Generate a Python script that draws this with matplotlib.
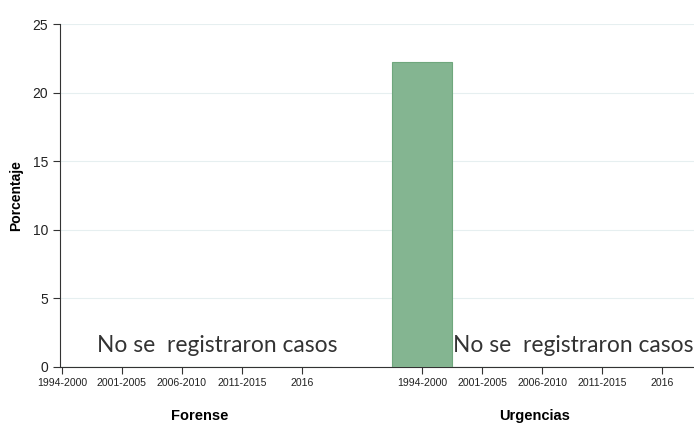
import matplotlib
matplotlib.use("Agg")
import matplotlib.pyplot as plt
import numpy as np

periods = ["1994-2000", "2001-2005", "2006-2010", "2011-2015", "2016"]
groups = ["Forense", "Urgencias"]
forense_vals = [np.nan, np.nan, np.nan, np.nan, np.nan]
urgencias_vals = [22.2, np.nan, np.nan, np.nan, np.nan]
yticks = [0, 5, 10, 15, 20, 25]
note = "No se  registraron casos"

fig = plt.figure(figsize=(6.94, 4.23), dpi=100)
ax = fig.add_axes([60/694, (423-366.7)/423, 1-60/694, (366.7-24)/423])

pos_f = np.arange(5)
pos_u = np.arange(5) + 6
ax.bar(pos_f, np.nan_to_num(forense_vals), width=1.0, color="#84b591", edgecolor="#6fa77d", linewidth=0.8)
ax.bar(pos_u, np.nan_to_num(urgencias_vals), width=1.0, color="#84b591", edgecolor="#6fa77d", linewidth=0.8, zorder=3)

ax.set_xlim(-0.03, 10.53)
ax.set_ylim(0, 25)
ax.set_yticks(yticks)
ax.set_yticklabels([str(t) for t in yticks], fontsize=10, family="Liberation Sans", color="#222222")
ax.yaxis.grid(True, color="#e6eff0", linewidth=0.8)
ax.set_axisbelow(True)

ax.set_xticks(list(pos_f) + list(pos_u))
ax.set_xticklabels(periods + periods, fontsize=7.6, family="Liberation Sans", color="#222222")
ax.tick_params(axis="both", direction="out", length=5, width=0.8, color="#333333")
ax.tick_params(axis="x", pad=3)

for s in ["top", "right"]:
    ax.spines[s].set_visible(False)
for s in ["left", "bottom"]:
    ax.spines[s].set_color("#333333")
    ax.spines[s].set_linewidth(0.8)

ax.set_ylabel("Porcentaje", fontsize=10, fontweight="bold",
              family="Liberation Sans", labelpad=7)

ax.text(0.59, 1.07, note, fontsize=16.4, family="Lato", color="#333333", ha="left", va="baseline")
ax.text(6.52, 1.07, note, fontsize=16.4, family="Lato", color="#333333", ha="left", va="baseline")

fig.text(200/694, 1-416/423, groups[0], fontsize=10.5, fontweight="bold", family="Liberation Sans", ha="center", va="center")
fig.text(535/694, 1-416/423, groups[1], fontsize=10.5, fontweight="bold", family="Liberation Sans", ha="center", va="center")

fig.savefig("out.png", dpi=100, facecolor="white")
